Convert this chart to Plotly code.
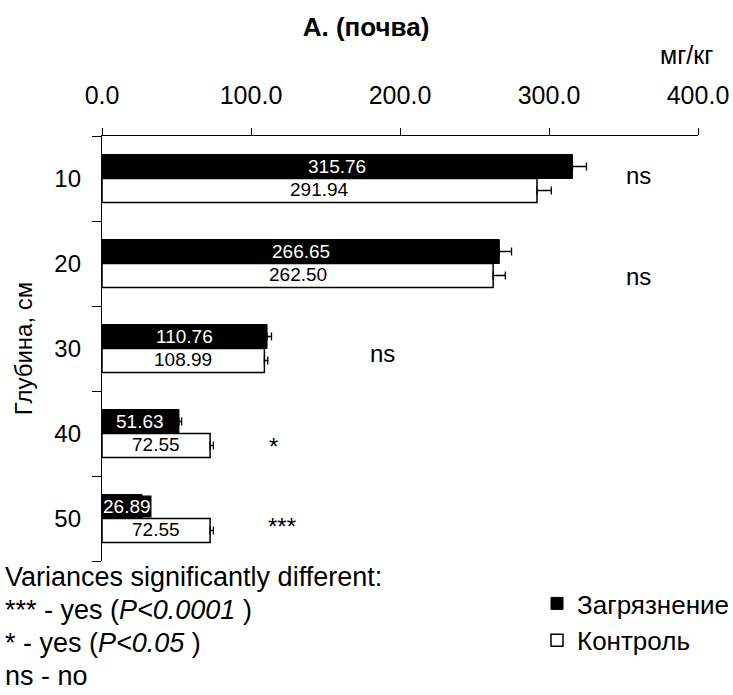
import plotly.graph_objects as go

# Soil depth categories and mean concentrations (mg/kg)
depths = ["10", "20", "30", "40", "50"]
polluted = [315.76, 266.65, 110.76, 51.63, 26.89]
control = [291.94, 262.50, 108.99, 72.55, 72.55]
polluted_err = [9.4, 8.2, 3.0, 1.8, 1.0]
control_err = [9.6, 8.2, 2.3, 2.2, 2.2]

# Variance-test outcome for each depth
signif = ["ns", "ns", "ns", "*", "***"]

FONT = "Arial, Liberation Sans, sans-serif"
L, T, W, H = 102, 136, 596, 425
pos = list(range(len(depths)))          # row index of each depth
bounds = [p - 0.5 for p in pos] + [pos[-1] + 0.5]

fig = go.Figure()
fig.add_trace(go.Bar(
    y=pos, x=polluted, orientation="h", name="Загрязнение",
    marker=dict(color="black", line=dict(color="black", width=1)),
    error_x=dict(type="data", symmetric=False, array=polluted_err,
                 arrayminus=[0] * len(pos), color="black", thickness=1.3, width=4),
    legendgroup="a",
))
fig.add_trace(go.Bar(
    y=pos, x=control, orientation="h", name="Контроль",
    marker=dict(color="white", line=dict(color="black", width=1.5)),
    error_x=dict(type="data", symmetric=False, array=control_err,
                 arrayminus=[0] * len(pos), color="black", thickness=1.3, width=4),
    legendgroup="b",
))

annotations = []
# value labels inside the bars
for i, v in zip(pos, polluted):
    fit = v * W / 400 > 60
    annotations.append(dict(
        x=v / 2 if fit else 0, y=i, xref="x", yref="y",
        xanchor="center" if fit else "left", yshift=12,
        text=f"{v:.2f}", showarrow=False, bgcolor="black", borderpad=0,
        font=dict(family=FONT, size=19, color="white"),
    ))
for i, v in zip(pos, control):
    annotations.append(dict(
        x=v / 2, y=i, xref="x", yref="y", xanchor="center", yshift=-11,
        text=f"{v:.2f}", showarrow=False,
        font=dict(family=FONT, size=19, color="black"),
    ))

# significance marks beside each pair of bars
mark_x = [360, 360, 188, 115, 121]
mark_shift = [3, -13, -5, -13, -8]
for i, s, mx, sh in zip(pos, signif, mark_x, mark_shift):
    annotations.append(dict(
        x=mx, y=i, xref="x", yref="y", yshift=sh, text=s, showarrow=False,
        font=dict(family=FONT, size=24, color="black"),
    ))


def px(x, y):
    """Pixel position on the page -> paper coordinates."""
    return (x - L) / W, (T + H - y) / H


ux, uy = px(715, 55)
annotations.append(dict(
    x=ux, y=uy, xref="paper", yref="paper", text="мг/кг", showarrow=False,
    xanchor="right", yanchor="middle", font=dict(family=FONT, size=25, color="black"),
))

# footnote explaining the marks
notes = [
    "Variances significantly different:",
    "*** - yes (<i>P<0.0001</i> )",
    "* - yes (<i>P<0.05</i> )",
    "ns - no",
]
for k, t in enumerate(notes):
    nx, ny = px(3, 577 + 33 * k)
    annotations.append(dict(
        x=nx, y=ny, xref="paper", yref="paper", text=t, showarrow=False,
        xanchor="left", yanchor="middle",
        font=dict(family=FONT, size=27, color="black"),
    ))

lx, ly = px(537, 580)
fig.update_layout(
    width=733, height=695,
    margin=dict(l=L, r=733 - L - W, t=T, b=695 - T - H, autoexpand=False),
    paper_bgcolor="white", plot_bgcolor="white",
    barmode="group", bargap=0.435, bargroupgap=0,
    font=dict(family=FONT, size=24, color="black"),
    title=dict(text="<b>A. (почва)</b>", x=366 / 733, xref="container", xanchor="center",
               y=1 - 27 / 695, yref="container", yanchor="middle",
               font=dict(family=FONT, size=26, color="black")),
    annotations=annotations,
    showlegend=True,
    legend=dict(
        x=lx, y=ly, xanchor="left", yanchor="top",
        font=dict(family=FONT, size=26, color="black"),
        traceorder="grouped", tracegroupgap=0,
        itemwidth=30, bgcolor="rgba(0,0,0,0)",
    ),
    xaxis=dict(
        side="top", range=[0, 400], dtick=100, tick0=0, tickformat=".1f",
        showgrid=False, zeroline=False, showline=True, linecolor="black", linewidth=1.3,
        ticks="outside", ticklen=7, tickcolor="black", tickwidth=1.3,
        ticklabelstandoff=14, automargin=False,
        tickfont=dict(family=FONT, size=25, color="black"),
    ),
    yaxis=dict(
        range=[bounds[-1], bounds[0]],
        tickmode="array", tickvals=pos, ticktext=depths,
        ticks="outside", ticklen=1, tickcolor="rgba(0,0,0,0)",
        minor=dict(tickmode="array", tickvals=bounds, ticks="outside",
                   ticklen=9, tickcolor="black", tickwidth=1.3, showgrid=False),
        showgrid=False, zeroline=False, showline=True, linecolor="black", linewidth=1.3,
        ticklabelstandoff=14, automargin=False,
        tickfont=dict(family=FONT, size=24, color="black"),
        title=dict(text="Глубина, см", font=dict(family=FONT, size=24, color="black"), standoff=14),
    ),
)

fig.write_html("out.html")
